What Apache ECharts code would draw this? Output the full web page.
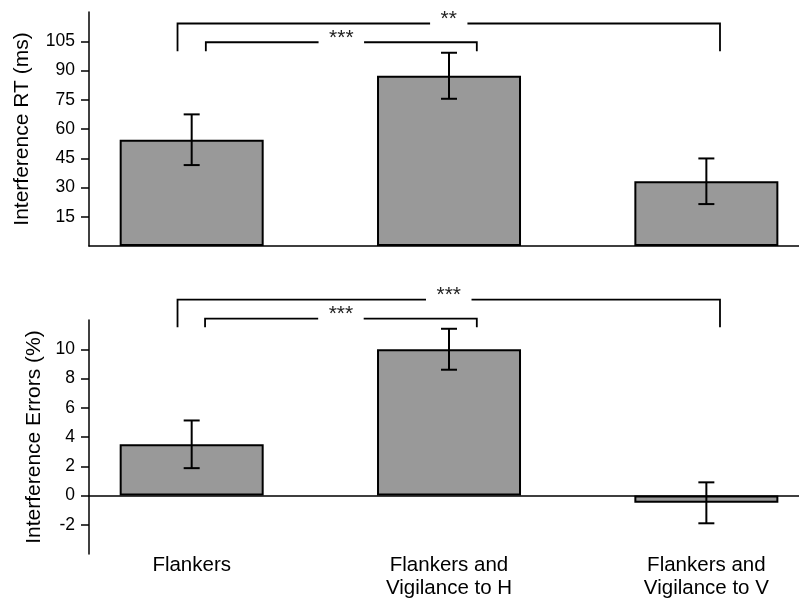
<!DOCTYPE html>
<html>
<head>
<meta charset="utf-8">
<script src="https://cdn.jsdelivr.net/npm/echarts@6/dist/echarts.min.js"></script>
<style>
html,body{margin:0;padding:0;background:#fff;}
#chart{width:799px;height:600px;}
</style>
</head>
<body>
<div id="chart"></div>
<script>
// ---- data ----
const categories = ['Flankers', 'Flankers and\nVigilance to H', 'Flankers and\nVigilance to V'];
const rtMeans = [54.5, 87.3, 33.2];
const rtErrors = [13.0, 11.8, 11.7];
const errMeans = [3.5, 10.0, -0.5];
const errErrors = [1.63, 1.4, 1.4];
const rtTicks = [15, 30, 45, 60, 75, 90, 105];
const errTicks = [-2, 0, 2, 4, 6, 8, 10];
// significance brackets: left end, right end (category index units), bar height, foot height, label
const rtBracketLeft = [-0.055, 0.055];
const rtBracketRight = [2.053, 1.108];
const rtBracketTop = [114.1, 104.5];
const rtBracketFoot = [99.9, 99.9];
const rtBracketLabels = ['**', '***'];
const errBracketLeft = [-0.055, 0.052];
const errBracketRight = [2.053, 1.108];
const errBracketTop = [13.4, 12.1];
const errBracketFoot = [11.5, 11.5];
const errBracketLabels = ['***', '***'];

const FONT = "'Liberation Sans', Arial, Helvetica, sans-serif";
const STAR_SIZE = 21;
const measureCtx = document.createElement('canvas').getContext('2d');
function textWidth(t, size) {
  measureCtx.font = size + 'px ' + FONT;
  return measureCtx.measureText(t).width;
}

const chart = echarts.init(document.getElementById('chart'), null, {renderer: 'canvas'});

function barData(means) { return means.map((m, i) => [i, m]); }
function errData(means, errs) { return means.map((m, i) => [i, m - errs[i], m + errs[i]]); }
function bracketData(l, r, t, f) { return l.map((v, i) => [v, r[i], t[i], f[i]]); }

function errRender(params, api) {
  const x = api.value(0);
  const lo = api.coord([x, api.value(1)]);
  const hi = api.coord([x, api.value(2)]);
  const half = 8;
  const style = {stroke: '#000', lineWidth: 2, fill: null};
  return {
    type: 'group',
    children: [
      {type: 'line', shape: {x1: lo[0], y1: lo[1], x2: hi[0], y2: hi[1]}, style: style},
      {type: 'line', shape: {x1: lo[0] - half, y1: lo[1], x2: lo[0] + half, y2: lo[1]}, style: style},
      {type: 'line', shape: {x1: hi[0] - half, y1: hi[1], x2: hi[0] + half, y2: hi[1]}, style: style}
    ]
  };
}

function makeBracketRender(labels) {
  return function (params, api) {
    const a = api.coord([api.value(0), api.value(2)]);
    const b = api.coord([api.value(1), api.value(2)]);
    const fa = api.coord([api.value(0), api.value(3)]);
    const fb = api.coord([api.value(1), api.value(3)]);
    const label = labels[params.dataIndex];
    const mid = (a[0] + b[0]) / 2;
    const gap = textWidth(label, STAR_SIZE) + 21;
    const style = {stroke: '#000', lineWidth: 1.8, fill: null};
    return {
      type: 'group',
      children: [
        {type: 'polyline', shape: {points: [[fa[0], fa[1]], [a[0], a[1]], [mid - gap / 2, a[1]]]}, style: style},
        {type: 'polyline', shape: {points: [[mid + gap / 2, b[1]], [b[0], b[1]], [fb[0], fb[1]]]}, style: style},
        {type: 'text', x: mid, y: a[1] - 4, style: {text: label, fill: '#222', font: STAR_SIZE + 'px ' + FONT, align: 'center', verticalAlign: 'middle'}}
      ]
    };
  };
}

const XMIN = -0.399, XMAX = 2.360;
const axisLineStyle = {color: '#000', width: 1.5};

function yAxisDef(gi, min, max, interval, ticks, name, gap) {
  return {
    gridIndex: gi, type: 'value', min: min, max: max, interval: interval,
    axisLine: {show: true, onZero: false, lineStyle: axisLineStyle},
    axisTick: {show: true, length: 8, lineStyle: {color: '#000', width: 1.5}, customValues: ticks},
    axisLabel: {show: true, customValues: ticks, fontSize: 17.5, color: '#000', fontFamily: FONT, margin: 14},
    splitLine: {show: false},
    name: name, nameLocation: 'middle', nameGap: gap,
    nameTextStyle: {fontSize: 21, color: '#000', fontFamily: FONT}
  };
}

const option = {
  animation: false,
  backgroundColor: '#fff',
  grid: [
    {left: 89, right: 0, top: 12, height: 234},
    {left: 89, right: 0, top: 320, height: 234}
  ],
  xAxis: [
    {gridIndex: 0, type: 'value', min: XMIN, max: XMAX, axisLine: {show: true, onZero: true, lineStyle: axisLineStyle}, axisTick: {show: false}, axisLabel: {show: false}, splitLine: {show: false}},
    {gridIndex: 1, type: 'value', min: XMIN, max: XMAX, position: 'bottom', axisLine: {show: true, onZero: true, lineStyle: axisLineStyle}, axisTick: {show: false}, axisLabel: {show: false}, splitLine: {show: false}},
    {gridIndex: 1, type: 'value', min: XMIN, max: XMAX, position: 'bottom', axisLine: {show: false, onZero: false}, axisTick: {show: false}, splitLine: {show: false},
     axisLabel: {show: true, customValues: [0, 1, 2], formatter: (v) => categories[Math.round(v)], fontSize: 20.5, lineHeight: 23, color: '#000', fontFamily: FONT, margin: 0}}
  ],
  yAxis: [
    yAxisDef(0, 0, 120, 15, rtTicks, 'Interference RT (ms)', 56),
    yAxisDef(1, -4, 12, 2, errTicks, 'Interference Errors (%)', 44)
  ],
  series: [
    {type: 'bar', xAxisIndex: 0, yAxisIndex: 0, data: barData(rtMeans), barWidth: 144,
     itemStyle: {color: '#999999', borderColor: '#000', borderWidth: 2}},
    {type: 'custom', xAxisIndex: 0, yAxisIndex: 0, data: errData(rtMeans, rtErrors), renderItem: errRender, encode: {x: 0, y: [1, 2]}, clip: false, z: 5},
    {type: 'custom', xAxisIndex: 0, yAxisIndex: 0, data: bracketData(rtBracketLeft, rtBracketRight, rtBracketTop, rtBracketFoot), renderItem: makeBracketRender(rtBracketLabels), encode: {x: [0, 1], y: [2, 3]}, clip: false, z: 5},
    {type: 'bar', xAxisIndex: 1, yAxisIndex: 1, data: barData(errMeans), barWidth: 144,
     itemStyle: {color: '#999999', borderColor: '#000', borderWidth: 2}},
    {type: 'custom', xAxisIndex: 1, yAxisIndex: 1, data: errData(errMeans, errErrors), renderItem: errRender, encode: {x: 0, y: [1, 2]}, clip: false, z: 5},
    {type: 'custom', xAxisIndex: 1, yAxisIndex: 1, data: bracketData(errBracketLeft, errBracketRight, errBracketTop, errBracketFoot), renderItem: makeBracketRender(errBracketLabels), encode: {x: [0, 1], y: [2, 3]}, clip: false, z: 5}
  ]
};
chart.setOption(option);
</script>
</body>
</html>
